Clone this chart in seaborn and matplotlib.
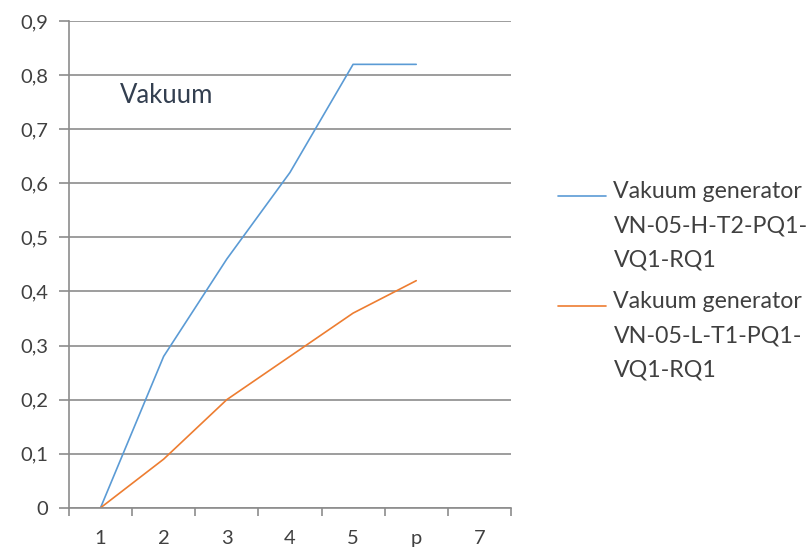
import numpy as np
import pandas as pd
import matplotlib
matplotlib.use("Agg")
import matplotlib.pyplot as plt
import seaborn as sns
from matplotlib.lines import Line2D
from matplotlib.legend_handler import HandlerLine2D

# categories on the x axis (last one has no data)
categories = ["1", "2", "3", "4", "5", "p", "7"]
series_h = "Vakuum generator\nVN-05-H-T2-PQ1-\nVQ1-RQ1"
series_l = "Vakuum generator\nVN-05-L-T1-PQ1-\nVQ1-RQ1"
values_h = [0.0, 0.28, 0.46, 0.62, 0.82, 0.82]
values_l = [0.0, 0.09, 0.20, 0.28, 0.36, 0.42]
y_ticks = [0.0, 0.1, 0.2, 0.3, 0.4, 0.5, 0.6, 0.7, 0.8, 0.9]
y_labels = ["0", "0,1", "0,2", "0,3", "0,4", "0,5", "0,6", "0,7", "0,8", "0,9"]

df = pd.DataFrame({
    "pos": list(range(len(values_h))) + list(range(len(values_l))),
    "value": values_h + values_l,
    "series": [series_h] * len(values_h) + [series_l] * len(values_l),
})

TICK_FS = 14.5
LEG_FS = 16.7
GRID = "#8C8C8C"
TXT = "#404040"


class TopLine(HandlerLine2D):
    # put the legend line next to the first text row (Excel style)
    def create_artists(self, legend, orig_handle, xdescent, ydescent,
                       width, height, fontsize, trans):
        arts = super().create_artists(legend, orig_handle, xdescent, ydescent,
                                      width, height, fontsize, trans)
        for a in arts:
            a.set_ydata(np.asarray(a.get_ydata()) + 22)
        return arts


sns.set_style("white")
plt.rcParams["font.family"] = ["Lato", "DejaVu Sans"]

fig = plt.figure(figsize=(8.11, 5.55), dpi=100)
ax = fig.add_axes([0.085, 0.085, 0.545, 0.877])

sns.lineplot(data=df, x="pos", y="value", hue="series",
             palette={series_h: "#5B9BD5", series_l: "#ED7D31"},
             linewidth=1.2, ax=ax, sort=False)

ax.set_xlim(-0.5, len(categories) - 0.5)
ax.set_ylim(0, 0.9)
ax.set_yticks(y_ticks)
ax.set_yticklabels(y_labels)
ax.yaxis.grid(True, color=GRID, linewidth=1.2)
ax.set_axisbelow(True)

# labels centred in categories, tick marks between them
ax.set_xticks(range(len(categories)))
ax.set_xticklabels(categories)
ax.set_xticks(np.arange(-0.5, len(categories)), minor=True)
ax.tick_params(axis="x", which="both", bottom=True)
ax.tick_params(axis="x", which="major", length=0, pad=16, labelsize=TICK_FS, labelcolor=TXT)
ax.tick_params(axis="x", which="minor", length=6, width=1.2, color=GRID, direction="out")
ax.tick_params(axis="y", left=True, length=7, width=1.2, color=GRID, labelsize=TICK_FS,
               labelcolor=TXT, pad=8, direction="out")

for side in ["top", "right"]:
    ax.spines[side].set_visible(False)
for side in ["left", "bottom"]:
    ax.spines[side].set_color(GRID)
    ax.spines[side].set_linewidth(1.2)

ax.set_xlabel("")
ax.set_ylabel("")

ax.text(0.115, 0.848, "Vakuum", transform=ax.transAxes, fontsize=18.5,
        color="#333F50", va="center", ha="left")

handles, labels = ax.get_legend_handles_labels()
leg = ax.legend(handles, labels, loc="upper left", bbox_to_anchor=(0.662, 0.712),
                bbox_transform=fig.transFigure, frameon=False, fontsize=LEG_FS,
                handlelength=2.1, handletextpad=0.3, labelspacing=0.85,
                labelcolor=TXT, handler_map={Line2D: TopLine()})
for t in leg.get_texts():
    t.set_linespacing(1.8)

plt.savefig("out.png", dpi=100)
